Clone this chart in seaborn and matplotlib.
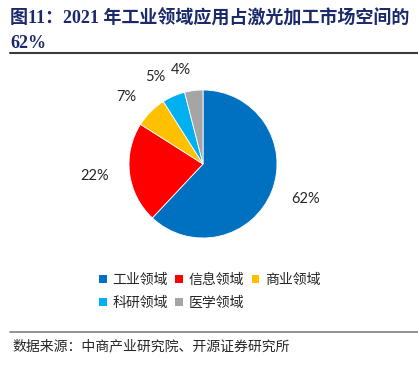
import matplotlib
matplotlib.use("Agg")
import matplotlib.pyplot as plt
import seaborn as sns
from matplotlib.lines import Line2D
from matplotlib.patches import Patch

sns.set_theme(style="white")
plt.rcParams['font.family'] = ['Lato', 'Noto Sans CJK SC', 'DejaVu Sans']

# Data
categories = ["工业领域", "信息领域", "商业领域", "科研领域", "医学领域"]
shares = [62, 22, 7, 5, 4]
colors = ["#0070C0", "#FF0000", "#FFC000", "#00B0F0", "#A5A5A5"]

title_line1 = "图11：2021 年工业领域应用占激光加工市场空间的"
title_line2 = "62%"
source_text = "数据来源：中商产业研究院、开源证券研究所"

W, H = 418, 367
fig = plt.figure(figsize=(W / 100, H / 100), dpi=100)
fig.patch.set_facecolor("white")

# Pie: centre ~(203,164) px, radius ~74 px; pie axes span 2.5 radii
cx, cy, r = 203, 164, 74
side = 2.5 * r
ax = fig.add_axes([(cx - side / 2) / W, (H - cy - side / 2) / H, side / W, side / H])
wedges, texts = ax.pie(
    shares,
    colors=colors,
    startangle=90,
    counterclock=False,
    labels=[f"{v}%" for v in shares],
    labeldistance=1.28,
    wedgeprops={"edgecolor": "white", "linewidth": 0.6},
    textprops={"fontsize": 10.5, "color": "#262626"},
)

# Title
title_font = dict(family=['Liberation Serif', 'Noto Sans CJK SC'], weight="bold",
                  color="#1B2A6B", fontsize=13)
fig.text(10 / W, 1 - 18 / H, title_line1, va="center", ha="left", **title_font)
fig.text(10 / W, 1 - 43 / H, title_line2, va="center", ha="left", **title_font)
fig.add_artist(Line2D([10 / W, 1], [1 - 53 / H] * 2, color="#3a3a3a", lw=1.5))

# Legend (row-major order for a 3-column grid)
handles = [Patch(facecolor=c, edgecolor="none") for c in colors]
order = [0, 3, 1, 4, 2]
fig.legend(
    [handles[i] for i in order], [categories[i] for i in order],
    loc="upper left", bbox_to_anchor=(99 / W, 1 - 273 / H),
    ncol=3, frameon=False,
    handlelength=0.55, handleheight=0.55, handletextpad=0.4,
    columnspacing=0.55, labelspacing=0.65,
    borderpad=0, borderaxespad=0,
    prop={"family": ['Noto Sans CJK SC'], "size": 10},
)

# Footer
fig.add_artist(Line2D([10 / W, 1], [1 - 332 / H] * 2, color="#808080", lw=1.2))
fig.text(12 / W, 1 - 346 / H, source_text, va="center", ha="left",
         fontsize=10, color="#262626", family=['Noto Sans CJK SC'])

fig.savefig("out.png", dpi=100, facecolor="white")
